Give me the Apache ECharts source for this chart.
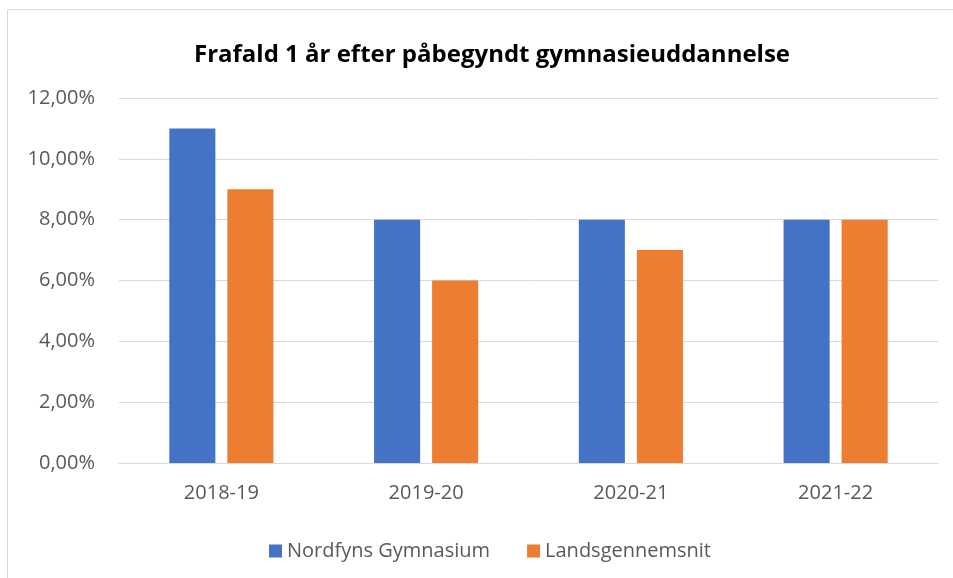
<!DOCTYPE html>
<html>
<head>
<meta charset="utf-8">
<script src="https://cdn.jsdelivr.net/npm/echarts@6/dist/echarts.min.js"></script>
<style>
  html, body { margin: 0; padding: 0; background: #fff; }
  #chart { width: 953px; height: 578px; }
</style>
</head>
<body>
<div id="chart"></div>
<script>
  const categories = ['2018-19', '2019-20', '2020-21', '2021-22'];
  const nordfyns = [11, 8, 8, 8];
  const lands = [9, 6, 7, 8];
  const seriesNames = ['Nordfyns Gymnasium', 'Landsgennemsnit'];

  const chart = echarts.init(document.getElementById('chart'));
  const font = 'Open Sans';

  const option = {
    animation: false,
    color: ['#4472c4', '#ed7d31'],
    // chart area border (cropped at right and bottom)
    graphic: [{
      type: 'rect',
      shape: { x: 7.5, y: 9.5, width: 1200, height: 1200 },
      style: { fill: 'none', stroke: '#d9d9d9', lineWidth: 1 },
      silent: true
    }],
    title: {
      text: 'Frafald 1 år efter påbegyndt gymnasieuddannelse',
      left: 487,
      top: 38,
      textAlign: 'center',
      textStyle: {
        fontFamily: font,
        fontSize: 24,
        fontWeight: 'bold',
        color: '#000'
      }
    },
    legend: {
      data: seriesNames,
      left: 264,
      top: 536,
      itemWidth: 13,
      itemHeight: 13,
      itemGap: 37,
      icon: 'rect',
      textStyle: {
        fontFamily: font,
        fontSize: 20,
        color: '#595959'
      }
    },
    grid: {
      left: 119,
      right: 15,
      top: 98,
      bottom: 115
    },
    xAxis: {
      type: 'category',
      data: categories,
      axisLine: { lineStyle: { color: '#d9d9d9', width: 1 } },
      axisTick: { show: false },
      axisLabel: {
        fontFamily: font,
        fontSize: 20,
        color: '#595959',
        margin: 20
      }
    },
    yAxis: {
      type: 'value',
      min: 0,
      max: 12,
      interval: 2,
      axisLine: { show: false },
      axisTick: { show: false },
      splitLine: { lineStyle: { color: '#d9d9d9', width: 1 } },
      axisLabel: {
        fontFamily: font,
        fontSize: 20,
        color: '#595959',
        margin: 24,
        formatter: (v) => v.toFixed(2).replace('.', ',') + '%'
      }
    },
    series: [
      {
        name: seriesNames[0],
        type: 'bar',
        data: nordfyns,
        barWidth: '22.5%',
        barGap: '26%'
      },
      {
        name: seriesNames[1],
        type: 'bar',
        data: lands,
        barWidth: '22.5%',
        barGap: '26%'
      }
    ]
  };

  chart.setOption(option);
</script>
</body>
</html>
